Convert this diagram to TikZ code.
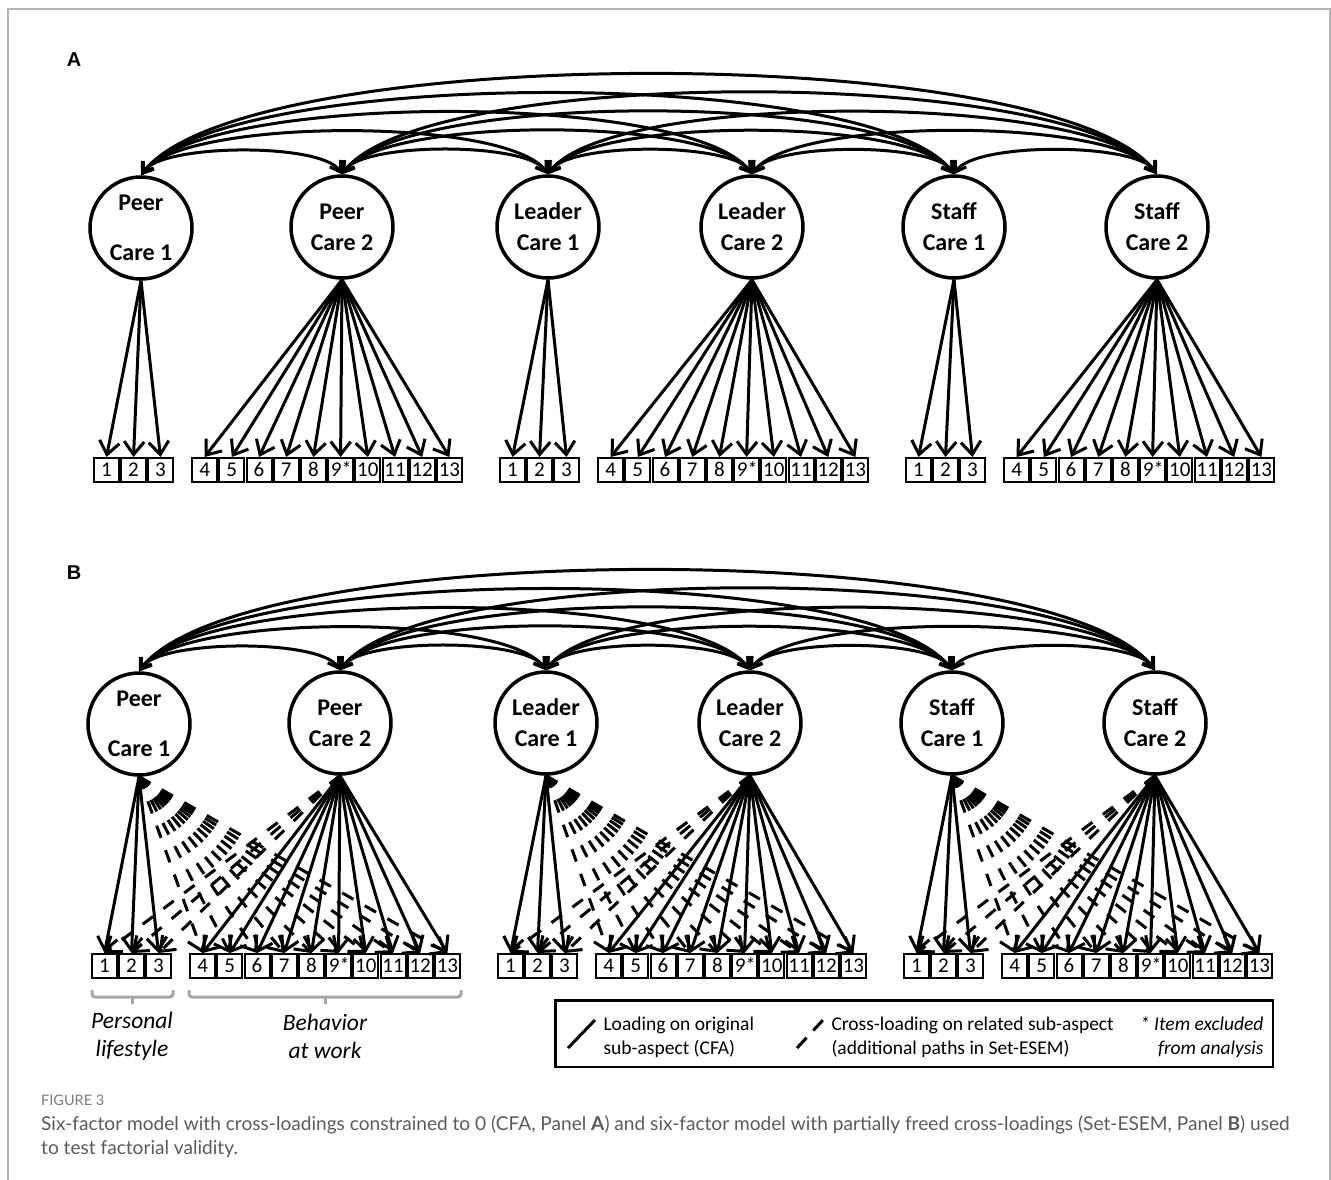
\documentclass[tikz,border=0pt]{standalone}
\usepackage{fontspec}
\setmainfont{Carlito}
\newfontfamily\capfont{Lato}
\newfontfamily\labfont{Liberation Sans}
\usetikzlibrary{arrows.meta,calc}
\definecolor{capgray}{HTML}{5A5B5D}
\definecolor{figgray}{HTML}{7A7B7D}
\definecolor{bracegray}{HTML}{A6A6A6}
\definecolor{framegray}{HTML}{B4B4B4}
\tikzset{
  factor/.style={circle,draw,line width=3.5pt,minimum size=102pt,inner sep=0pt,align=center,
    font=\fontsize{24}{31}\selectfont\bfseries},
  itembox/.style={draw,line width=2pt,minimum width=25pt,minimum height=24pt,inner sep=0pt,
    text height=13.5pt,text depth=0pt,font=\fontsize{21}{21}\selectfont},
  load/.style={line width=3pt,-{Straight Barb[length=13pt,width=20pt]}},
  cross/.style={load,dash pattern=on 13pt off 13pt},
  cov/.style={line width=3pt,{Straight Barb[length=10pt,width=13pt]}-{Straight Barb[length=10pt,width=13pt]}},
  brace/.style={draw=bracegray,line width=3pt,rounded corners=3pt},
  bracelabel/.style={align=center,font=\fontsize{23.5}{28}\selectfont\itshape},
  legtext/.style={align=left,anchor=west,font=\fontsize{19.5}{24}\selectfont},
  panellabel/.style={font=\labfont\bfseries\fontsize{20}{20}\selectfont},
}
\newcommand\drawpanel[3]{%
  \node[factor] (#1-f1) at ({141+#2},{-228+#3}) {Peer\\[19pt]Care 1};
  \node[factor] (#1-f2) at ({342+#2},{-227+#3}) {Peer\\Care 2};
  \node[factor] (#1-f3) at ({548+#2},{-227+#3}) {Leader\\Care 1};
  \node[factor] (#1-f4) at ({752+#2},{-227+#3}) {Leader\\Care 2};
  \node[factor] (#1-f5) at ({954+#2},{-227+#3}) {Staff\\Care 1};
  \node[factor] (#1-f6) at ({1157+#2},{-227+#3}) {Staff\\Care 2};
  \foreach \k in {0,1,2}{
    \foreach \m in {1,2,3}{
      \node[itembox] (#1-\k-\m) at ({106.5+406*\k+27*(\m-1)+#2},{-470+#3}) {\m};}
    \foreach \m in {4,...,13}{
      \node[itembox] (#1-\k-\m) at ({204.6+406*\k+27.2*(\m-4)+#2},{-470+#3}) {\ifnum\m=9 \textit{9*}\else\m\fi};}
  }
  \foreach \k in {0,1,2}{
    \pgfmathtruncatemacro\fa{2*\k+1}
    \pgfmathtruncatemacro\fb{2*\k+2}
    \foreach \m in {1,2,3} \draw[load] (#1-f\fa.south) -- (#1-\k-\m.north);
    \foreach \m in {4,...,13} \draw[load] (#1-f\fb.south) -- (#1-\k-\m.north);
  }
  \foreach \i/\j in {1/2,1/3,1/4,1/5,1/6,2/3,2/4,2/5,2/6,3/4,3/5,3/6,4/5,4/6,5/6}{
    \draw[cov] let \p1=(#1-f\i.north), \p2=(#1-f\j.north), \n1={\x2-\x1}, \n2={(0.094*\n1+5pt)/0.75} in
      (\p1) .. controls ({\x1+0.1*\n1},{\y1+\n2}) and ({\x2-0.1*\n1},{\y2+\n2}) .. (\p2);
  }
}
\begin{document}
\begin{tikzpicture}[x=1pt,y=1pt]
\fill[white] (0,0) rectangle (1331,-1180);
\useasboundingbox (0,0) rectangle (1331,-1180);
\draw[framegray,line width=1.5pt] (8,-1180) -- (8,-9) -- (1330,-9) -- (1330,-1180);

\node[panellabel] (labA) at (74,-60) {A};
\node[panellabel] (labB) at (74,-573) {B};

\drawpanel{A}{0}{0}
\drawpanel{B}{-2}{-496}

% cross-loadings in panel B
\foreach \k in {0,1,2}{
  \pgfmathtruncatemacro\fa{2*\k+1}
  \pgfmathtruncatemacro\fb{2*\k+2}
  \foreach \m in {4,...,13} \draw[cross] (B-f\fa.south) -- (B-\k-\m.north);
  \foreach \m in {1,2,3} \draw[cross] (B-f\fb.south) -- (B-\k-\m.north);
}

% braces
\draw[brace] (92,-990) -- (92,-997) -- (173,-997) -- (173,-990);
\draw[brace] (132.5,-997) -- (132.5,-1004);
\draw[brace] (189,-990) -- (189,-997) -- (461,-997) -- (461,-990);
\draw[brace] (325,-997) -- (325,-1004);
\node[bracelabel] (pers) at (132,-1036) {Personal\\lifestyle};
\node[bracelabel] (behav) at (325,-1036) {Behavior\\at work};

% legend
\node[draw,line width=2.5pt,minimum width=717.5pt,minimum height=66.5pt,inner sep=0pt] (legend) at (914,-1033.5) {};
\coordinate (ls1) at (568,-1048); \coordinate (ls2) at (595,-1020);
\draw[line width=3pt] (ls1) -- (ls2);
\coordinate (ld1) at (797,-1048); \coordinate (ld2) at (823,-1020);
\draw[line width=3pt,dash pattern=on 14pt off 10pt] (ld1) -- (ld2);
\node[legtext] (lt1) at (600,-1037) {Loading on original\\sub-aspect (CFA)};
\node[legtext] (lt2) at (828,-1037) {Cross-loading on related sub-aspect\\(additional paths in Set-ESEM)};
\node[align=right,anchor=east,font=\fontsize{19.5}{24}\selectfont\itshape] (lt3) at (1267,-1037) {* Item excluded\\from analysis};

% caption
\node[anchor=west,inner sep=0pt,text=figgray,font=\capfont\fontsize{14.5}{14.5}\selectfont] (figlab) at (41,-1100) {FIGURE 3};
\node[anchor=north west,inner sep=0pt,align=left,text=capgray,font=\capfont\fontsize{19.1}{24}\selectfont] (cap) at (41,-1115)
 {Six-factor model with cross-loadings constrained to 0 (CFA, Panel \textbf{A}) and six-factor model with partially freed cross-loadings (Set-ESEM, Panel \textbf{B}) used\\to test factorial validity.};
\end{tikzpicture}
\end{document}
